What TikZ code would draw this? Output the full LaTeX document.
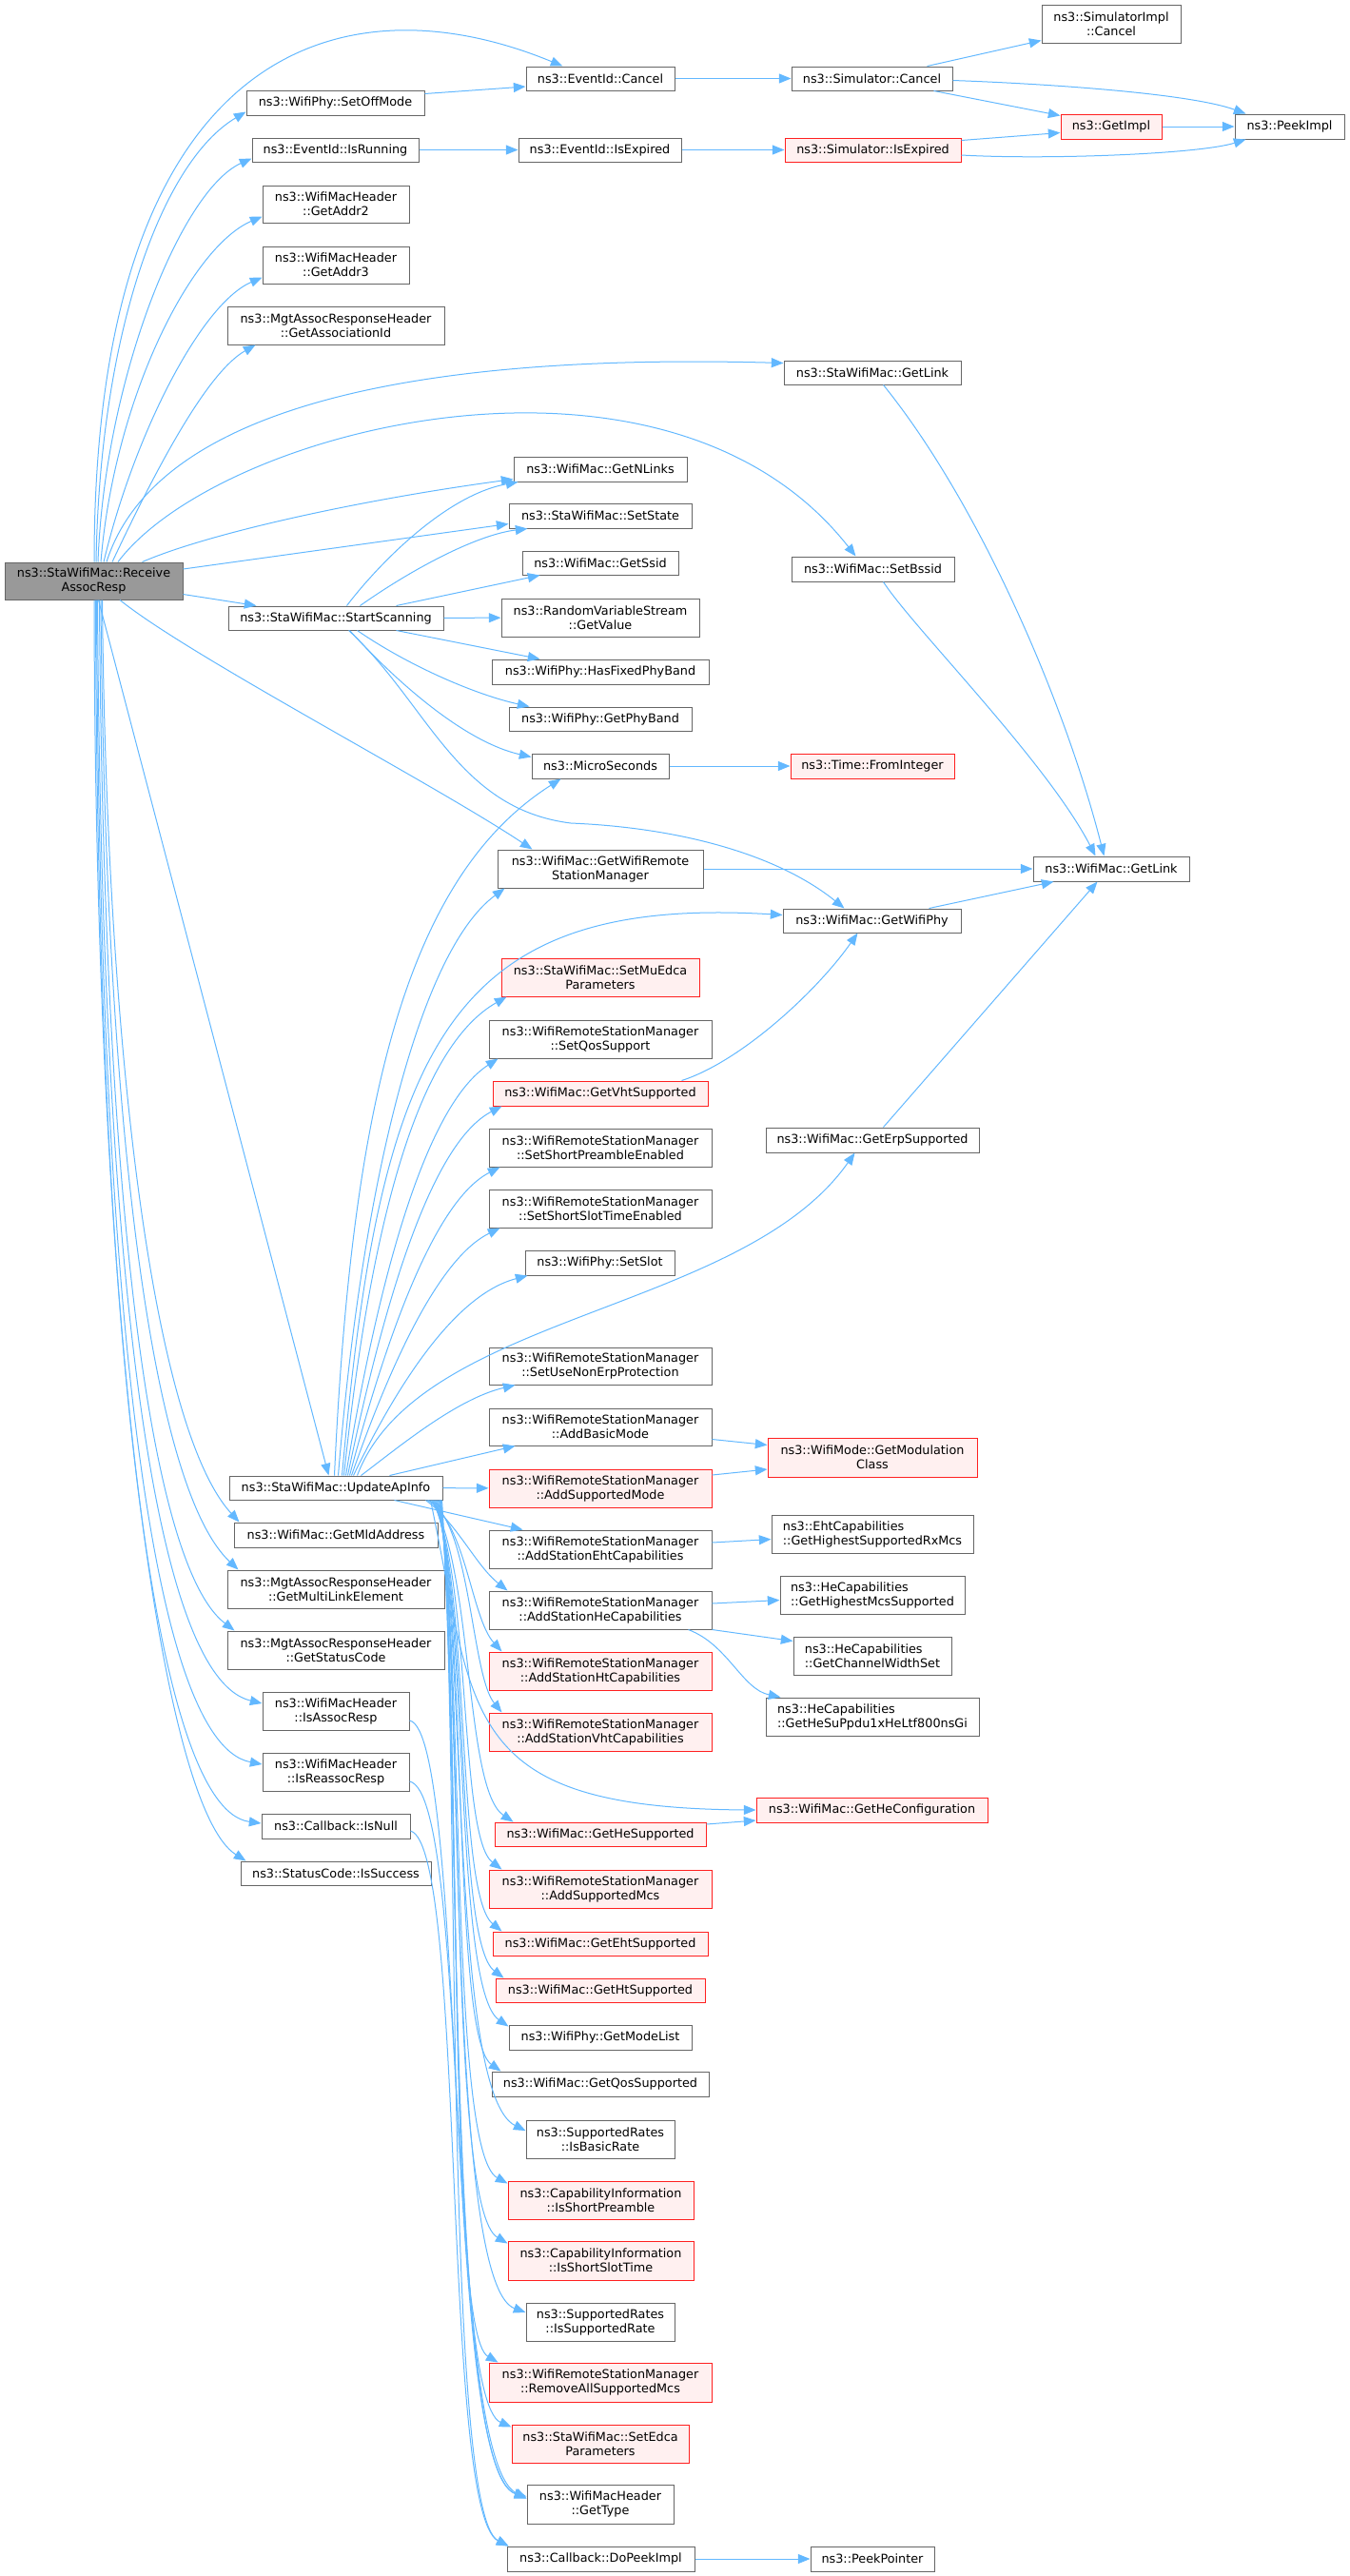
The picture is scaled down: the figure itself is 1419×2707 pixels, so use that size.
\documentclass[tikz,border=0pt]{standalone}
\usepackage{fontspec}
\setmainfont{DejaVu Sans}
\usetikzlibrary{arrows.meta,calc}
\definecolor{edgec}{HTML}{63B8FF}
\definecolor{redfill}{HTML}{FFF0F0}
\definecolor{bord}{HTML}{666666}
\definecolor{mainfill}{HTML}{999999}
\definecolor{redbord}{HTML}{FF2020}
\tikzset{
 nbox/.style={draw=bord, fill=white, line width=0.75pt, inner sep=0pt, align=center, font=\fontsize{9.6}{11.25}\selectfont},
 redbox/.style={nbox, draw=redbord, fill=redfill},
 mainbox/.style={nbox, fill=mainfill},
 lbox/.style={nbox, align=left},
 edg/.style={draw=edgec, line width=0.75pt, -{Triangle[length=9.5pt,width=7.5pt]}},
}
\newcommand\nd[7]{\node[#7, minimum width={(#4-#2)*0.75pt}, minimum height={(#5-#3)*0.75pt}] (#1) at ({(#2+#4)/2},{(#3+#5)/2}) {#6};}
\begin{document}
\begin{tikzpicture}[x=0.75pt,y=-0.75pt]
\useasboundingbox (0,0) rectangle (1419,2707);
% column 0
\nd{main}{5}{591}{192}{630}{ns3::StaWifiMac::Receive\\AssocResp}{mainbox}
% column 1
\nd{setoff}{259}{95}{446}{121}{ns3::WifiPhy::SetOffMode}{nbox}
\nd{isrun}{265}{145}{440}{170}{ns3::EventId::IsRunning}{nbox}
\nd{addr2}{276}{195}{430}{234}{ns3::WifiMacHeader\\::GetAddr2}{nbox}
\nd{addr3}{276}{259}{430}{298}{ns3::WifiMacHeader\\::GetAddr3}{nbox}
\nd{associd}{239}{322}{467}{362}{ns3::MgtAssocResponseHeader\\::GetAssociationId}{nbox}
\nd{startscan}{240}{637}{466}{662}{ns3::StaWifiMac::StartScanning}{nbox}
\nd{updap}{241}{1551}{465}{1576}{ns3::StaWifiMac::UpdateApInfo}{nbox}
\nd{mldaddr}{246}{1600}{460}{1626}{ns3::WifiMac::GetMldAddress}{nbox}
\nd{multilink}{239}{1650}{467}{1690}{ns3::MgtAssocResponseHeader\\::GetMultiLinkElement}{nbox}
\nd{statuscode}{239}{1714}{467}{1754}{ns3::MgtAssocResponseHeader\\::GetStatusCode}{nbox}
\nd{isassoc}{276}{1778}{430}{1818}{ns3::WifiMacHeader\\::IsAssocResp}{nbox}
\nd{isreassoc}{276}{1842}{430}{1882}{ns3::WifiMacHeader\\::IsReassocResp}{nbox}
\nd{isnull}{275}{1906}{431}{1932}{ns3::Callback::IsNull}{nbox}
\nd{issuccess}{253}{1956}{453}{1981}{ns3::StatusCode::IsSuccess}{nbox}
% column 2
\nd{evcancel}{553}{70}{709}{95}{ns3::EventId::Cancel}{nbox}
\nd{evexpired}{545}{145}{716}{170}{ns3::EventId::IsExpired}{nbox}
\nd{getnlinks}{540}{480}{722}{506}{ns3::WifiMac::GetNLinks}{nbox}
\nd{setstate}{535}{529}{727}{555}{ns3::StaWifiMac::SetState}{nbox}
\nd{getssid}{549}{579}{713}{604}{ns3::WifiMac::GetSsid}{nbox}
\nd{rvgetvalue}{527}{629}{735}{669}{ns3::RandomVariableStream\\::GetValue}{nbox}
\nd{hasfixed}{517}{693}{745}{719}{ns3::WifiPhy::HasFixedPhyBand}{nbox}
\nd{getphyband}{535}{743}{727}{768}{ns3::WifiPhy::GetPhyBand}{nbox}
\nd{micro}{559}{792}{703}{818}{ns3::MicroSeconds}{nbox}
\nd{getwrsm}{523}{893}{739}{933}{ns3::WifiMac::GetWifiRemote\\StationManager}{nbox}
\nd{setmuedca}{527}{1007}{735}{1047}{ns3::StaWifiMac::SetMuEdca\\Parameters}{redbox}
\nd{setqos}{514}{1072}{748}{1112}{ns3::WifiRemoteStationManager\\::SetQosSupport}{nbox}
\nd{getvht}{518}{1136}{744}{1162}{ns3::WifiMac::GetVhtSupported}{redbox}
\nd{setshortpre}{514}{1186}{748}{1226}{ns3::WifiRemoteStationManager\\::SetShortPreambleEnabled}{nbox}
\nd{setshortslot}{514}{1250}{748}{1290}{ns3::WifiRemoteStationManager\\::SetShortSlotTimeEnabled}{nbox}
\nd{setslot}{552}{1314}{709}{1340}{ns3::WifiPhy::SetSlot}{nbox}
\nd{setusenonerp}{514}{1416}{748}{1455}{ns3::WifiRemoteStationManager\\::SetUseNonErpProtection}{nbox}
\nd{addbasic}{514}{1480}{748}{1519}{ns3::WifiRemoteStationManager\\::AddBasicMode}{nbox}
\nd{addsupmode}{514}{1544}{748}{1584}{ns3::WifiRemoteStationManager\\::AddSupportedMode}{redbox}
\nd{addeht}{514}{1608}{748}{1648}{ns3::WifiRemoteStationManager\\::AddStationEhtCapabilities}{nbox}
\nd{addhe}{514}{1672}{748}{1712}{ns3::WifiRemoteStationManager\\::AddStationHeCapabilities}{nbox}
\nd{addht}{514}{1736}{748}{1776}{ns3::WifiRemoteStationManager\\::AddStationHtCapabilities}{redbox}
\nd{addvht}{514}{1800}{748}{1840}{ns3::WifiRemoteStationManager\\::AddStationVhtCapabilities}{redbox}
\nd{gethesup}{520}{1915}{742}{1940}{ns3::WifiMac::GetHeSupported}{redbox}
\nd{addsupmcs}{514}{1965}{748}{2005}{ns3::WifiRemoteStationManager\\::AddSupportedMcs}{redbox}
\nd{getehtsup}{518}{2030}{744}{2055}{ns3::WifiMac::GetEhtSupported}{redbox}
\nd{gethtsup}{521}{2079}{741}{2104}{ns3::WifiMac::GetHtSupported}{redbox}
\nd{getmodelist}{535}{2128}{727}{2154}{ns3::WifiPhy::GetModeList}{nbox}
\nd{getqossup}{517}{2177}{745}{2203}{ns3::WifiMac::GetQosSupported}{nbox}
\nd{isbasic}{553}{2228}{709}{2268}{ns3::SupportedRates\\::IsBasicRate}{nbox}
\nd{isshortpre}{534}{2292}{729}{2332}{ns3::CapabilityInformation\\::IsShortPreamble}{redbox}
\nd{isshortslot}{534}{2355}{729}{2396}{ns3::CapabilityInformation\\::IsShortSlotTime}{redbox}
\nd{issuprate}{553}{2420}{709}{2460}{ns3::SupportedRates\\::IsSupportedRate}{nbox}
\nd{removeall}{514}{2483}{748}{2524}{ns3::WifiRemoteStationManager\\::RemoveAllSupportedMcs}{redbox}
\nd{setedca}{538}{2548}{724}{2588}{ns3::StaWifiMac::SetEdca\\Parameters}{redbox}
\nd{gettype}{554}{2611}{708}{2652}{ns3::WifiMacHeader\\::GetType}{nbox}
\nd{dopeek}{533}{2676}{730}{2702}{ns3::Callback::DoPeekImpl}{nbox}
% column 3
\nd{simcancel}{832}{70}{1001}{95}{ns3::Simulator::Cancel}{nbox}
\nd{simexpired}{825}{145}{1010}{170}{ns3::Simulator::IsExpired}{redbox}
\nd{stagetlink}{824}{379}{1010}{404}{ns3::StaWifiMac::GetLink}{nbox}
\nd{setbssid}{832}{585}{1003}{611}{ns3::WifiMac::SetBssid}{nbox}
\nd{frominteger}{831}{792}{1003}{818}{ns3::Time::FromInteger}{redbox}
\nd{getwifiphy}{823}{955}{1010}{980}{ns3::WifiMac::GetWifiPhy}{nbox}
\nd{geterp}{805}{1185}{1029}{1211}{ns3::WifiMac::GetErpSupported}{nbox}
\nd{getmodclass}{807}{1511}{1027}{1552}{ns3::WifiMode::GetModulation\\Class}{redbox}
\nd{ehtcap}{811}{1592}{1023}{1632}{ns3::EhtCapabilities\\::GetHighestSupportedRxMcs}{lbox}
\nd{hecapmcs}{820}{1656}{1014}{1696}{ns3::HeCapabilities\\::GetHighestMcsSupported}{lbox}
\nd{hecapcw}{834}{1720}{1000}{1760}{ns3::HeCapabilities\\::GetChannelWidthSet}{lbox}
\nd{hecapsu}{805}{1784}{1029}{1824}{ns3::HeCapabilities\\::GetHeSuPpdu1xHeLtf800nsGi}{lbox}
\nd{gethecfg}{795}{1889}{1038}{1915}{ns3::WifiMac::GetHeConfiguration}{redbox}
\nd{peekpointer}{852}{2676}{982}{2702}{ns3::PeekPointer}{nbox}
% column 4
\nd{simimplcancel}{1095}{5}{1241}{45}{ns3::SimulatorImpl\\::Cancel}{nbox}
\nd{getimpl}{1115}{120}{1221}{146}{ns3::GetImpl}{redbox}
\nd{wmgetlink}{1086}{900}{1250}{926}{ns3::WifiMac::GetLink}{nbox}
% column 5
\nd{peekimpl}{1298}{120}{1413}{146}{ns3::PeekImpl}{nbox}

% ---- edges from main
\draw[edg] ($(main.north)+(0.5,0)$) .. controls (99,60) and (350,-30) .. ($(evcancel.north west)+(39,0)$);
\draw[edg] ($(main.north)+(2.5,0)$) .. controls (105,350) and (170,170) .. ($(setoff.south west)+(0,-4)$);
\draw[edg] ($(main.north)+(4.5,0)$) .. controls (110,400) and (190,200) .. ($(isrun.south west)+(0,-4)$);
\draw[edg] ($(main.north)+(7.5,0)$) .. controls (120,420) and (200,260) .. ($(addr2.west)+(0,13)$);
\draw[edg] ($(main.north)+(10.5,0)$) .. controls (140,460) and (210,320) .. ($(addr3.west)+(0,13)$);
\draw[edg] ($(main.north)+(19.5,0)$) .. controls (170,480) and (220,390) .. ($(associd.south west)+(30,0)$);
\draw[edg] ($(main.north)+(13.5,0)$) .. controls (160,440) and (400,370) .. ($(stagetlink.west)+(0,-10)$);
\draw[edg] ($(main.north)+(25.5,0)$) .. controls (230,450) and (700,330) .. ($(setbssid.north west)+(68,0)$);
\draw[edg] ($(main.north east)+(-43,0)$) .. controls (220,560) and (380,525) .. ($(getnlinks.south west)+(0,-3)$);
\draw[edg] ($(main.east)+(0,-12.5)$) -- ($(setstate.south west)+(0,-5)$);
\draw[edg] ($(main.east)+(0,14)$) -- ($(startscan.north west)+(30,0)$);
\draw[edg] ($(main.south)+(27.5,0)$) .. controls (200,690) and (450,820) .. ($(getwrsm.north west)+(37,0)$);
\draw[edg] ($(main.south)+(5,0)$) -- ($(updap.north west)+(105,0)$);
\draw[edg] ($(main.south)+(9,0)$) .. controls (112,1100) and (160,1500) .. ($(mldaddr.north west)+(6,0)$);
\draw[edg] ($(main.south)+(7.5,0)$) .. controls (110,1150) and (155,1560) .. ($(multilink.north west)+(12,0)$);
\draw[edg] ($(main.south)+(6,0)$) .. controls (108,1200) and (150,1640) .. ($(statuscode.north west)+(8,0)$);
\draw[edg] ($(main.south)+(4,0)$) .. controls (106,1250) and (150,1760) .. ($(isassoc.west)+(0,-8)$);
\draw[edg] ($(main.south)+(3,0)$) .. controls (104,1300) and (150,1830) .. ($(isreassoc.west)+(0,-8)$);
\draw[edg] ($(main.south)+(2,0)$) .. controls (102,1350) and (155,1900) .. ($(isnull.west)+(0,-3)$);
\draw[edg] ($(main.south)+(0.5,0)$) .. controls (100,1400) and (170,1900) .. ($(issuccess.north west)+(6,0)$);

% ---- upper right part
\draw[edg] ($(setoff.north east)+(0,4)$) -- ($(evcancel.south west)+(0,-4.5)$);
\draw[edg] (isrun) -- (evexpired);
\draw[edg] (evcancel) -- (simcancel);
\draw[edg] (evexpired) -- (simexpired);
\draw[edg] ($(simcancel.north west)+(143,0)$) -- ($(simimplcancel.south west)+(0,-3)$);
\draw[edg] ($(simcancel.south west)+(150,0)$) -- ($(getimpl.north west)+(0,2)$);
\draw[edg] ($(simcancel.east)+(0,2)$) .. controls (1100,88) and (1250,98) .. ($(peekimpl.north west)+(12,0)$);
\draw[edg] ($(simexpired.north east)+(0,3)$) -- ($(getimpl.south west)+(0,-7)$);
\draw[edg] ($(simexpired.east)+(0,5.5)$) .. controls (1100,168) and (1260,162) .. ($(peekimpl.south west)+(12,0)$);
\draw[edg] (getimpl) -- (peekimpl);

\draw[edg] ($(stagetlink.south west)+(105,0)$) .. controls (1030,530) and (1120,740) .. ($(wmgetlink.north west)+(75,0)$);
\draw[edg] ($(setbssid.south west)+(97,0)$) .. controls (960,660) and (1100,800) .. ($(wmgetlink.north west)+(66,0)$);
\draw[edg] (getwrsm) -- (wmgetlink);
\draw[edg] ($(getwifiphy.north west)+(154,0)$) -- ($(wmgetlink.south west)+(22,0)$);
\draw[edg] ($(geterp.north west)+(124,0)$) -- ($(wmgetlink.south west)+(68,0)$);
\draw[edg] (micro) -- (frominteger);
\draw[edg] ($(getvht.north east)+(-28,0)$) .. controls (780,1115) and (860,1040) .. ($(getwifiphy.south west)+(79,0)$);

% ---- StartScanning
\draw[edg] ($(startscan.north west)+(125,0)$) .. controls (400,590) and (470,520) .. ($(getnlinks.south west)+(5,0)$);
\draw[edg] ($(startscan.north west)+(139,0)$) .. controls (430,600) and (500,562) .. ($(setstate.south west)+(20,0)$);
\draw[edg] ($(startscan.north west)+(177,0)$) -- ($(getssid.south west)+(19,0)$);
\draw[edg] (startscan) -- (rvgetvalue);
\draw[edg] ($(startscan.south west)+(177,0)$) -- ($(hasfixed.north west)+(51,0)$);
\draw[edg] ($(startscan.south west)+(136,0)$) .. controls (430,700) and (500,730) .. ($(getphyband.north west)+(22,0)$);
\draw[edg] ($(startscan.south west)+(128,0)$) .. controls (420,720) and (490,780) .. ($(micro.north west)+(0,4)$);
\draw[edg] ($(startscan.south west)+(127,0)$) .. controls (450,740) and (480,850) .. (600,865) .. controls (720,870) and (820,900) .. ($(getwifiphy.north west)+(65,0)$);

% ---- UpdateApInfo upward
\draw[edg] ($(updap.north west)+(111,0)$) .. controls (370,1150) and (430,920) .. ($(micro.south west)+(31,0)$);
\draw[edg] ($(updap.north west)+(115,0)$) .. controls (380,1250) and (440,1000) .. ($(getwrsm.south west)+(8,0)$);
\draw[edg] ($(updap.north west)+(119,0)$) .. controls (400,1100) and (470,940) .. ($(getwifiphy.west)+(0,-6)$);
\draw[edg] ($(updap.north west)+(121,0)$) .. controls (390,1280) and (440,1100) .. ($(setmuedca.south west)+(6,0)$);
\draw[edg] ($(updap.north west)+(123,0)$) .. controls (400,1330) and (450,1160) .. ($(setqos.south west)+(10,0)$);
\draw[edg] ($(updap.north west)+(125,0)$) .. controls (405,1360) and (455,1200) .. ($(getvht.south west)+(10,0)$);
\draw[edg] ($(updap.north west)+(127,0)$) .. controls (410,1390) and (460,1260) .. ($(setshortpre.south west)+(12,0)$);
\draw[edg] ($(updap.north west)+(129,0)$) .. controls (415,1420) and (465,1320) .. ($(setshortslot.south west)+(12,0)$);
\draw[edg] ($(updap.north west)+(131,0)$) .. controls (420,1450) and (480,1360) .. ($(setslot.south west)+(3,0)$);
\draw[edg] ($(updap.north west)+(135,0)$) .. controls (440,1380) and (780,1380) .. ($(geterp.south west)+(94,0)$);
\draw[edg] ($(updap.north west)+(139,0)$) .. controls (420,1520) and (480,1470) .. ($(setusenonerp.south west)+(28,0)$);
\draw[edg] ($(updap.north west)+(169,0)$) -- ($(addbasic.south west)+(28,0)$);
\draw[edg] (updap) -- (addsupmode);
\draw[edg] ($(updap.south west)+(174,0)$) -- ($(addeht.north west)+(36,0)$);
% ---- UpdateApInfo downward
\draw[edg] ($(updap.south west)+(207,0)$) .. controls (480,1600) and (500,1645) .. ($(addhe.north west)+(20,0)$);
\draw[edg] ($(updap.south west)+(209,0)$) .. controls (490,1600) and (495,1700) .. ($(addht.north west)+(14,0)$);
\draw[edg] ($(updap.south west)+(210,0)$) .. controls (495,1600) and (495,1760) .. ($(addvht.north west)+(14,0)$);
\draw[edg] ($(updap.south west)+(212,0)$) .. controls (500,1800) and (480,1900) .. (gethecfg.west);
\draw[edg] ($(updap.south west)+(213,0)$) .. controls (498,1650) and (488,1880) .. ($(gethesup.north west)+(20,0)$);
\draw[edg] ($(updap.south west)+(214,0)$) .. controls (496,1660) and (482,1930) .. ($(addsupmcs.north west)+(14,0)$);
\draw[edg] ($(updap.south west)+(215,0)$) .. controls (495,1670) and (479,1990) .. ($(getehtsup.north west)+(10,0)$);
\draw[edg] ($(updap.south west)+(216,0)$) .. controls (494,1680) and (478,2040) .. ($(gethtsup.north west)+(9,0)$);
\draw[edg] ($(updap.south west)+(217,0)$) .. controls (493,1690) and (477,2090) .. ($(getmodelist.north west)+(0,2)$);
\draw[edg] ($(updap.south west)+(218,0)$) .. controls (492,1700) and (475,2140) .. ($(getqossup.north west)+(10,0)$);
\draw[edg] ($(updap.south west)+(219,0)$) .. controls (491,1720) and (473,2200) .. ($(isbasic.west)+(0,-9)$);
\draw[edg] ($(updap.south west)+(220,0)$) .. controls (490,1740) and (471,2260) .. ($(isshortpre.north west)+(0,3)$);
\draw[edg] ($(updap.south west)+(221,0)$) .. controls (489,1760) and (470,2320) .. ($(isshortslot.north west)+(0,3)$);
\draw[edg] ($(updap.south west)+(222,0)$) .. controls (488,1780) and (470,2400) .. ($(issuprate.west)+(0,-10)$);
\draw[edg] ($(updap.south west)+(222,0)$) .. controls (487,1800) and (468,2450) .. ($(removeall.north west)+(10,0)$);
\draw[edg] ($(updap.south west)+(223,0)$) .. controls (486,1820) and (468,2520) .. ($(setedca.north west)+(0,3)$);
\draw[edg] ($(updap.south west)+(223,0)$) .. controls (485,1840) and (468,2600) .. ($(gettype.west)+(0,-8)$);
\draw[edg] ($(updap.south west)+(224,0)$) .. controls (484,1860) and (466,2640) .. ($(dopeek.north west)+(2,0)$);
\draw[edg] ($(isassoc.east)+(0,10)$) .. controls (490,1820) and (466,2580) .. ($(gettype.west)+(0,-6)$);
\draw[edg] ($(isreassoc.east)+(0,10)$) .. controls (495,1885) and (466,2590) .. ($(gettype.west)+(0,-6)$);
\draw[edg] ($(isnull.east)+(0,5)$) .. controls (490,1940) and (464,2640) .. ($(dopeek.north west)+(2,0)$);

% ---- right side of column 2
\draw[edg] ($(addbasic.east)+(0,13)$) -- ($(getmodclass.west)+(0,-13)$);
\draw[edg] ($(addsupmode.east)+(0,-14)$) -- ($(getmodclass.west)+(0,12.5)$);
\draw[edg] ($(addeht.east)+(0,-7)$) -- ($(ehtcap.west)+(0,5.5)$);
\draw[edg] ($(addhe.east)+(0,-7)$) -- ($(hecapmcs.west)+(0,5.5)$);
\draw[edg] (addhe.south east) -- ($(hecapcw.north west)+(0,5)$);
\draw[edg] ($(addhe.south east)+(-25,0)$) .. controls (765,1728) and (780,1775) .. ($(hecapsu.north west)+(16,0)$);
\draw[edg] ($(gethesup.north east)+(0,2.5)$) -- ($(gethecfg.south west)+(0,-2.5)$);
\draw[edg] (dopeek) -- (peekpointer);
\end{tikzpicture}
\end{document}
